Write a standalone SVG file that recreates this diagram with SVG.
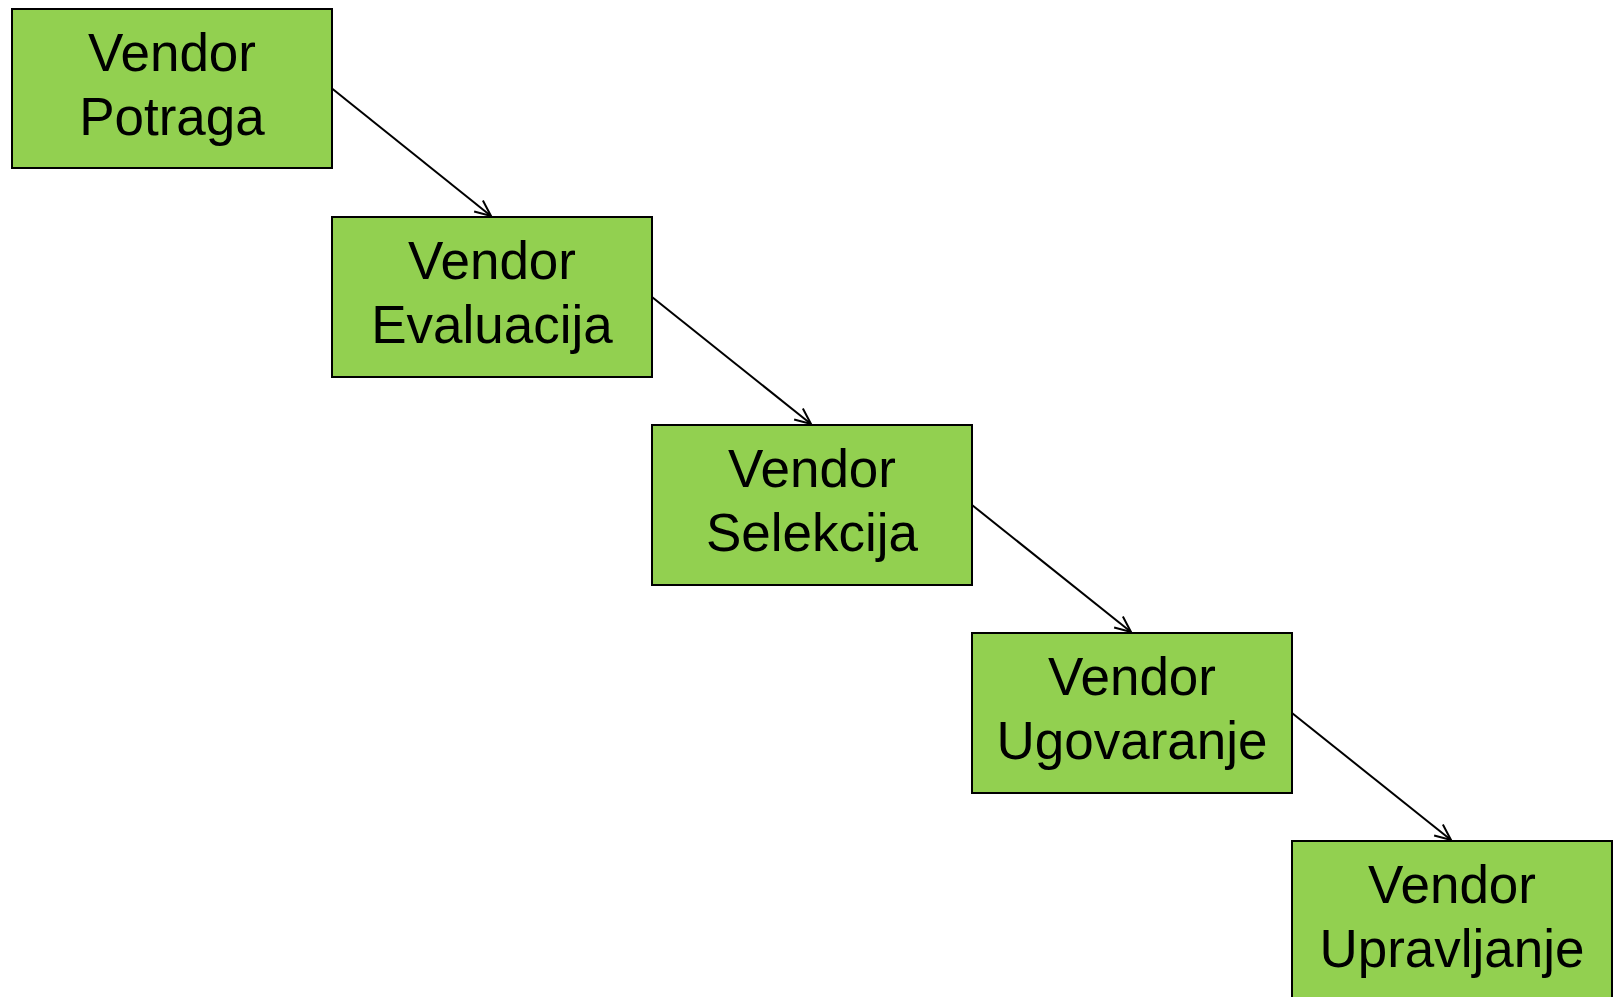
<svg xmlns="http://www.w3.org/2000/svg" width="1616" height="997" viewBox="0 0 1616 997">
<style>
.box{fill:#92D050;stroke:#000;stroke-width:2}
.lbl{font-family:"Liberation Sans",Arial,sans-serif;font-size:53px;fill:#000;text-anchor:middle}
.conn{stroke:#000;stroke-width:2;fill:none;marker-end:url(#arr)}
</style>
<defs>
<marker id="arr" viewBox="0 0 20 20" refX="18" refY="10" markerWidth="20" markerHeight="20" markerUnits="userSpaceOnUse" orient="auto">
<path d="M2,3 L18,10 L2,17" fill="none" stroke="#000" stroke-width="2"/>
</marker>
</defs>
<rect width="1616" height="997" fill="#fff"/>
<g id="connectors">
<line class="conn" x1="332" y1="88.5" x2="491" y2="216"/>
<line class="conn" x1="652" y1="297" x2="811" y2="424"/>
<line class="conn" x1="972" y1="505" x2="1131" y2="632"/>
<line class="conn" x1="1292" y1="713" x2="1451" y2="840"/>
</g>
<g id="node1"><rect class="box" x="12" y="9" width="320" height="159"/><text class="lbl" x="172" y="71">Vendor</text><text class="lbl" x="172" y="135">Potraga</text></g>
<g id="node2"><rect class="box" x="332" y="217" width="320" height="160"/><text class="lbl" x="492" y="279">Vendor</text><text class="lbl" x="492" y="343">Evaluacija</text></g>
<g id="node3"><rect class="box" x="652" y="425" width="320" height="160"/><text class="lbl" x="812" y="487">Vendor</text><text class="lbl" x="812" y="551">Selekcija</text></g>
<g id="node4"><rect class="box" x="972" y="633" width="320" height="160"/><text class="lbl" x="1132" y="695">Vendor</text><text class="lbl" x="1132" y="759">Ugovaranje</text></g>
<g id="node5"><rect class="box" x="1292" y="841" width="320" height="160"/><text class="lbl" x="1452" y="903">Vendor</text><text class="lbl" x="1452" y="967">Upravljanje</text></g>
</svg>
